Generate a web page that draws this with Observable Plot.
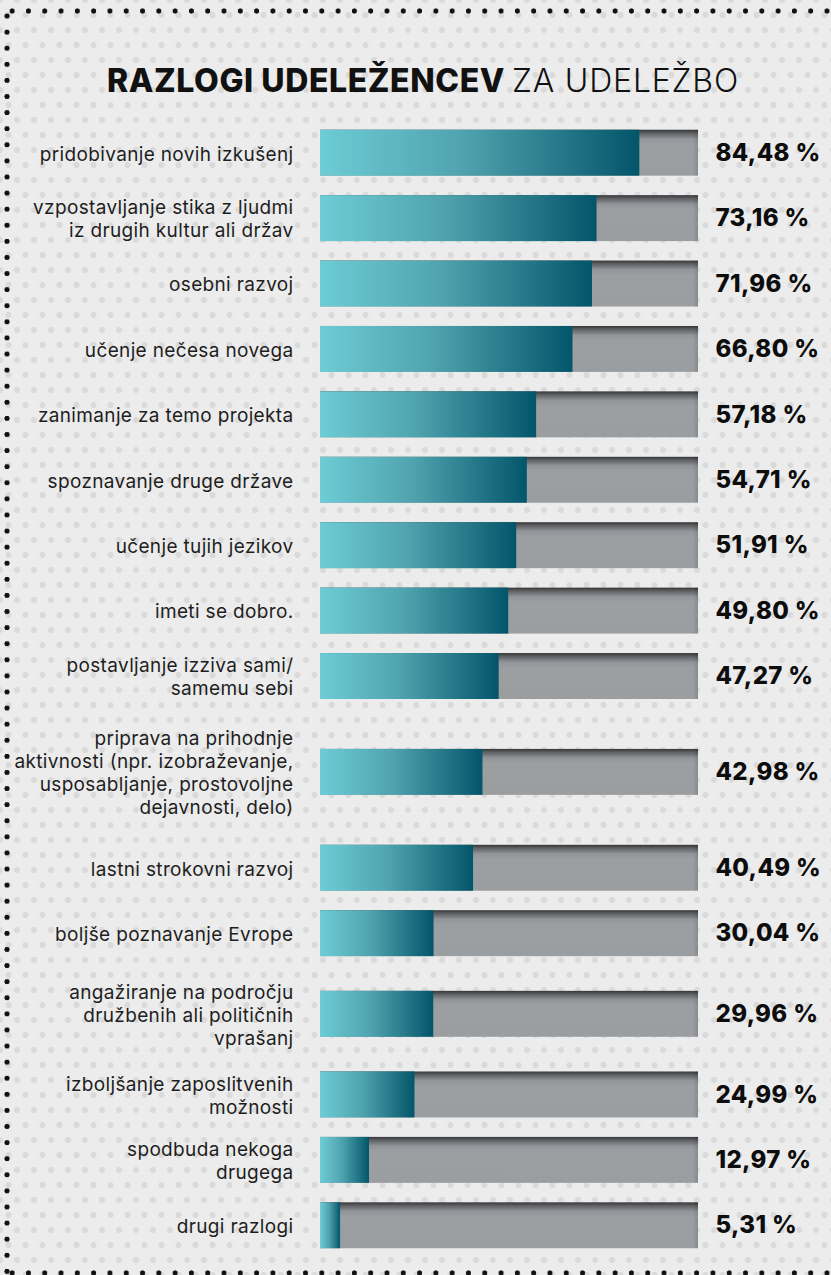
<!DOCTYPE html>
<html>
<head>
<meta charset="utf-8">
<script src="https://cdn.jsdelivr.net/npm/d3@7"></script>
<script src="https://cdn.jsdelivr.net/npm/@observablehq/plot@0.6"></script>
<style>
  html, body { margin: 0; padding: 0; background: #ebebeb; }
  #card {
    position: relative; width: 831px; height: 1275px; overflow: hidden;
    background-color: #ececec;
    background-image:
      radial-gradient(circle at center, #dadada 0 2.7px, rgba(0,0,0,0) 3.4px),
      radial-gradient(circle at center, #dadada 0 2.7px, rgba(0,0,0,0) 3.4px);
    background-size: 17px 30px, 17px 30px;
    background-position: 0 0, 8.5px 15px;
    font-family: Inter, "Open Sans", sans-serif;
  }
  .dots-h { position: absolute; left: 0; width: 831px; height: 6px;
    background-image: radial-gradient(circle at center, #111 0 2.3px, rgba(0,0,0,0) 2.9px);
    background-size: 16.3px 6px; background-position: 4px 0; background-repeat: repeat-x; }
  .dots-v { position: absolute; left: 4px; top: 8px; width: 6px; height: 1267px;
    background-image: radial-gradient(circle at center, #111 0 2.3px, rgba(0,0,0,0) 2.9px);
    background-size: 6px 16.1px; background-repeat: repeat-y; }
  #title { position: absolute; left: 107px; top: 65px; white-space: nowrap;
    font-size: 32px; line-height: 32px; color: #111; }
  #title .b { font-weight: 800; }
  #title .l { font-weight: 300; margin-left: 7px; }
  #chart { position: absolute; left: 0; top: 120px; }
  #chart text { letter-spacing: 0.35px; }
</style>
</head>
<body>
<div id="card">
  <div class="dots-h" style="top:8px"></div>
  <div class="dots-v"></div>
  <div class="dots-h" style="top:1270px"></div>
  <div id="title"><span class="b">RAZLOGI UDELEŽENCEV</span><span class="l">ZA UDELEŽBO</span></div>
  <div id="chart"></div>
</div>
<script>
// ---- data ----
const labels = [
  "pridobivanje novih izkušenj",
  "vzpostavljanje stika z ljudmi\niz drugih kultur ali držav",
  "osebni razvoj",
  "učenje nečesa novega",
  "zanimanje za temo projekta",
  "spoznavanje druge države",
  "učenje tujih jezikov",
  "imeti se dobro.",
  "postavljanje izziva sami/\nsamemu sebi",
  "priprava na prihodnje\naktivnosti (npr. izobraževanje,\nusposabljanje, prostovoljne\ndejavnosti, delo)",
  "lastni strokovni razvoj",
  "boljše poznavanje Evrope",
  "angažiranje na področju\ndružbenih ali političnih\nvprašanj",
  "izboljšanje zaposlitvenih\nmožnosti",
  "spodbuda nekoga\ndrugega",
  "drugi razlogi"
];
const values = [84.48, 73.16, 71.96, 66.80, 57.18, 54.71, 51.91, 49.80, 47.27, 42.98, 40.49, 30.04, 29.96, 24.99, 12.97, 5.31];
const valueLabels = ["84,48 %", "73,16 %", "71,96 %", "66,80 %", "57,18 %", "54,71 %", "51,91 %", "49,80 %",
  "47,27 %", "42,98 %", "40,49 %", "30,04 %", "29,96 %", "24,99 %", "12,97 %", "5,31 %"];

// ---- layout derived from label line counts ----
let acc = 0;
const rows = labels.map((label, i) => {
  const n = label.split("\n").length;
  const h = Math.max(65.5, 30.5 * n + 4.5);
  const yc = acc + h / 2;
  acc += h;
  return { label, value: values[i], vlabel: valueLabels[i], yc, y1: yc - 23, y2: yc + 23 };
});
const total = acc;

const defs = () => {
  const d = d3.create("svg:defs");
  const t = d.append("linearGradient").attr("id", "tealGrad").attr("x1", 0).attr("y1", 0).attr("x2", 1).attr("y2", 0);
  t.append("stop").attr("offset", 0).attr("stop-color", "#6dccd5");
  t.append("stop").attr("offset", 0.45).attr("stop-color", "#4fa3ae");
  t.append("stop").attr("offset", 1).attr("stop-color", "#03566a");
  const g = d.append("linearGradient").attr("id", "grayGrad").attr("x1", 0).attr("y1", 0).attr("x2", 0).attr("y2", 1);
  g.append("stop").attr("offset", 0).attr("stop-color", "#353537");
  g.append("stop").attr("offset", 0.07).attr("stop-color", "#5d5f61");
  g.append("stop").attr("offset", 0.2).attr("stop-color", "#92969a");
  g.append("stop").attr("offset", 0.32).attr("stop-color", "#9b9fa2");
  g.append("stop").attr("offset", 1).attr("stop-color", "#9a9ea1");
  const r = d.append("linearGradient").attr("id", "edgeGrad").attr("x1", 0).attr("y1", 0).attr("x2", 1).attr("y2", 0);
  r.append("stop").attr("offset", 0).attr("stop-color", "#000").attr("stop-opacity", 0);
  r.append("stop").attr("offset", 1).attr("stop-color", "#000").attr("stop-opacity", 0.12);
  return d.node();
};

const chart = Plot.plot({
  width: 831,
  height: 1155,
  marginLeft: 320,
  marginRight: 133,
  marginTop: 0,
  marginBottom: 17,
  x: { domain: [0, 100], axis: null },
  y: { domain: [0, total], reverse: true, axis: null },
  style: { background: "transparent", overflow: "visible", fontFamily: "Inter, 'Open Sans', sans-serif" },
  marks: [
    defs,
    Plot.rect(rows, { x1: 0, x2: 100, y1: "y1", y2: "y2", fill: "url(#grayGrad)" }),
    Plot.rect(rows, { x1: 98.6, x2: 100, y1: "y1", y2: "y2", fill: "url(#edgeGrad)" }),
    Plot.rect(rows, { x1: 0, x2: "value", y1: "y1", y2: "y2", fill: "url(#tealGrad)" }),
    Plot.text(rows, { x: 0, y: "yc", text: "label", textAnchor: "end", lineAnchor: "middle", dx: -27,
      lineHeight: 1.21, fontSize: 19, fill: "#1e1e1e" }),
    Plot.text(rows, { x: 100, y: "yc", text: "vlabel", textAnchor: "start", dx: 17,
      fontSize: 24, fontWeight: 800, fill: "#0d0d0d" })
  ]
});
document.getElementById("chart").appendChild(chart);

// fit title widths
(function fitTitle() {
  const c = document.createElement("canvas").getContext("2d");
  const fit = (el, weight, target) => {
    c.font = `${weight} 32px Inter`;
    const w = c.measureText(el.textContent).width;
    el.style.letterSpacing = ((target - w) / el.textContent.length) + "px";
  };
  fit(document.querySelector("#title .b"), 800, 398);
  fit(document.querySelector("#title .l"), 300, 227);
})();
</script>
</body>
</html>
